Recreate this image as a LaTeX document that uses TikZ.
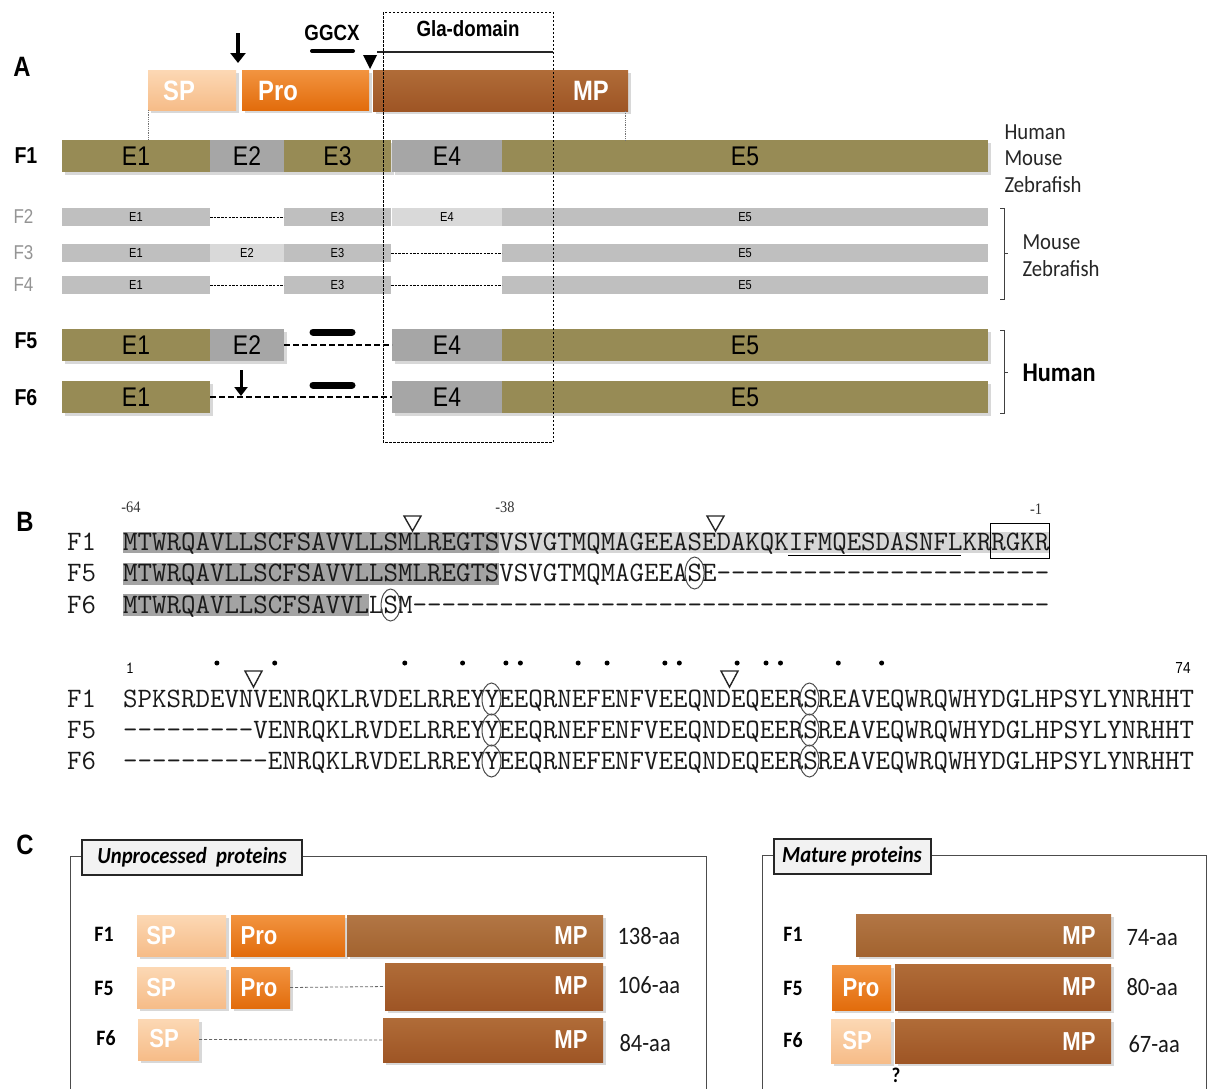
\documentclass[tikz,border=0pt]{standalone}
\usepackage{fontspec}
\setmainfont{Liberation Sans}
\newfontfamily\sansN[FakeStretch=0.85]{Liberation Sans}
\newfontfamily\calN[FakeStretch=0.9]{Carlito}
\newfontfamily\serifN[FakeStretch=0.9]{Liberation Serif}
\usetikzlibrary{shadows,fit,arrows.meta}
\newcommand\myfs[1]{\fontsize{#1}{#1}\selectfont}
\newcommand\dashrep[1]{\foreach\k in {1,...,#1}{-\kern0pt}}
\definecolor{olivec}{HTML}{978B55}
\definecolor{grayc}{HTML}{A6A6A6}
\definecolor{lgray}{HTML}{BFBFBF}
\definecolor{llgray}{HTML}{D9D9D9}
\definecolor{spTop}{HTML}{FCD8B4}
\definecolor{spBot}{HTML}{F6BC88}
\definecolor{proTop}{HTML}{F29440}
\definecolor{proBot}{HTML}{E26C0C}
\definecolor{mpTop}{HTML}{B06C38}
\definecolor{mpBot}{HTML}{9E5525}
\definecolor{mpaTop}{HTML}{B27645}
\definecolor{mpaBot}{HTML}{A2632F}
\definecolor{hdark}{HTML}{A3A3A3}
\definecolor{hlight}{HTML}{D6D6D6}
\definecolor{seqc}{HTML}{1A1A1A}
\begin{document}
\begin{tikzpicture}[x=1pt,y=-1pt,
  sh/.style={drop shadow={opacity=0.3,shadow xshift=2.5pt,shadow yshift=-3pt}},
  bar/.style={inner sep=0pt,outer sep=0pt},
  bigex/.style={bar,sh},
  smex/.style={bar},
  bigtx/.style={font=\sansN\myfs{27},inner sep=0pt},
  smtx/.style={font=\sansN\myfs{13},inner sep=0pt},
  olv/.style={fill=olivec},
  gry/.style={fill=grayc},
  lgr/.style={fill=lgray},
  llg/.style={fill=llgray},
  spsh/.style={bar,sh,top color=spTop,bottom color=spBot},
  prosh/.style={bar,sh,top color=proTop,bottom color=proBot},
  mpsh/.style={bar,sh,top color=mpTop,bottom color=mpBot},
  mpash/.style={bar,sh,top color=mpaTop,bottom color=mpaBot},
  wlbl/.style={text=white,font=\sansN\bfseries\myfs{28}},
  wlblc/.style={text=white,font=\sansN\bfseries\myfs{26}},
  panel/.style={font=\sansN\bfseries\myfs{28}},
  rowA/.style={anchor=west,font=\sansN\bfseries\myfs{23}},
  rowG/.style={anchor=west,text=black!42,font=\sansN\myfs{20}},
  spec/.style={anchor=west,text=black!85,font=\calN\myfs{23}},
  thinD/.style={line width=0.8pt,dash pattern=on 2.5pt off 1.2pt},
  thickD/.style={line width=2.2pt,dash pattern=on 6pt off 3pt},
  bigarrow/.style={line width=3.2pt,-{Triangle[length=10pt,width=15pt]}},
  seq/.style={anchor=base west,inner sep=0pt,text=seqc,font=\ttfamily\myfs{28.1}},
  posnum/.style={font=\serifN\myfs{16},text=black!80},
  otri/.style={draw=black!85,fill=white,line width=1.4pt,line join=miter},
  ell/.style={draw=black!70,line width=1pt},
  gdot/.style={fill=black,circle,inner sep=0pt,minimum size=5pt},
  rowC/.style={font=\calN\bfseries\myfs{22}},
  aa/.style={anchor=west,font=\calN\myfs{25},text=black!90},
  ttl/.style={bar,draw=black!85,line width=1.2pt,fill=black!5},
  ttltxt/.style={font=\calN\bfseries\itshape\myfs{23}},
  frm/.style={draw=black!70,line width=1pt}
]
\useasboundingbox (0,0) rectangle (1212,1088);
\clip (0,0) rectangle (1212,1088);
\fill[white] (0,0) rectangle (1212,1088);

% ================= Panel A =================
\node[panel] (pA) at (22,67) {A};

% protein bar
\node[spsh,fit={(148,70)(236,110)}] (psp) {};
\node[prosh,fit={(242,70)(369,110)}] (ppro) {};
\node[mpsh,fit={(373,70)(628,111)}] (pmp) {};
\node[wlbl] (tsp) at (179,91) {SP};
\node[wlbl] (tpro) at (278,91) {Pro};
\node[wlbl] (tmp) at (591,91) {MP};

\coordinate (a1s) at (238,33);
\coordinate (a1e) at (238,63);
\draw[bigarrow] (a1s) -- (a1e);
\fill (363,55) -- (377,55) -- (370,69) -- cycle;

\node[font=\sansN\bfseries\myfs{22}] (ggcx) at (332,33) {GGCX};
\node[font=\sansN\bfseries\myfs{22}] (gla) at (468,29) {Gla-domain};
\draw[line width=4pt,line cap=round] (312,51) -- (353,51);
\draw[line width=2.6pt,black!85] (377,52) -- (553,52);

% F1
\node[rowA] (lf1) at (11,156) {F1};
\node[bigex,olv,fit={(62,140)(210,172)}] (f1e1) {};
\node[bigex,gry,fit={(210,140)(284,172)}] (f1e2) {};
\node[bigex,olv,fit={(284,140)(391,172)}] (f1e3) {};
\node[bigex,gry,fit={(392,140)(502,172)}] (f1e4) {};
\node[bigex,olv,fit={(502,140)(988,172)}] (f1e5) {};
\node[bigtx] (t1e1) at (f1e1.center) {E1};
\node[bigtx] (t1e2) at (f1e2.center) {E2};
\node[bigtx] (t1e3) at (f1e3.center) {E3};
\node[bigtx] (t1e4) at (f1e4.center) {E4};
\node[bigtx] (t1e5) at (f1e5.center) {E5};
\draw[black!55,densely dotted,line width=0.8pt] (psp.south west) -- (f1e1.north -| psp.south west);
\draw[black!55,densely dotted,line width=0.8pt] (625,111) -- (625,140);
\node[spec] (hum1) at (1001,132) {Human};
\node[spec] (mou1) at (1001,158) {Mouse};
\node[spec] (zeb1) at (1001,185) {Zebrafish};

% F2
\node[rowG] (lf2) at (10,217) {F2};
\node[smex,lgr,fit={(62,208)(210,226)}] (f2e1) {};
\node[smex,lgr,fit={(284,208)(391,226)}] (f2e3) {};
\node[smex,llg,fit={(392,208)(502,226)}] (f2e4) {};
\node[smex,lgr,fit={(502,208)(988,226)}] (f2e5) {};
\node[smtx] at (f2e1.center) {E1};
\node[smtx] at (f2e3.center) {E3};
\node[smtx] at (f2e4.center) {E4};
\node[smtx] at (f2e5.center) {E5};
\draw[thinD] (f2e1.east) -- (f2e3.west);
% F3
\node[rowG] (lf3) at (10,253) {F3};
\node[smex,lgr,fit={(62,244)(210,262)}] (f3e1) {};
\node[smex,llg,fit={(210,244)(284,262)}] (f3e2) {};
\node[smex,lgr,fit={(284,244)(391,262)}] (f3e3) {};
\node[smex,lgr,fit={(502,244)(988,262)}] (f3e5) {};
\node[smtx] at (f3e1.center) {E1};
\node[smtx] at (f3e2.center) {E2};
\node[smtx] at (f3e3.center) {E3};
\node[smtx] at (f3e5.center) {E5};
\draw[thinD] (f3e3.east) -- (f3e5.west);
% F4
\node[rowG] (lf4) at (10,285) {F4};
\node[smex,lgr,fit={(62,276)(210,294)}] (f4e1) {};
\node[smex,lgr,fit={(284,276)(391,294)}] (f4e3) {};
\node[smex,lgr,fit={(502,276)(988,294)}] (f4e5) {};
\node[smtx] at (f4e1.center) {E1};
\node[smtx] at (f4e3.center) {E3};
\node[smtx] at (f4e5.center) {E5};
\draw[thinD] (f4e1.east) -- (f4e3.west);
\draw[thinD] (f4e3.east) -- (f4e5.west);
% bracket mouse/zebrafish
\draw[black!75,line width=1pt] (1000,208) -- (1004,208) -- (1004,299) -- (1000,299);
\draw[black!75,line width=1pt] (1004,253) -- (1008,253);
\node[spec] (mou2) at (1019,242) {Mouse};
\node[spec] (zeb2) at (1019,269) {Zebrafish};

% F5
\node[rowA] (lf5) at (11,341) {F5};
\node[bigex,olv,fit={(62,329)(210,361)}] (f5e1) {};
\node[bigex,gry,fit={(210,329)(284,361)}] (f5e2) {};
\node[bigex,gry,fit={(392,329)(502,361)}] (f5e4) {};
\node[bigex,olv,fit={(502,329)(988,361)}] (f5e5) {};
\node[bigtx] at (f5e1.center) {E1};
\node[bigtx] at (f5e2.center) {E2};
\node[bigtx] at (f5e4.center) {E4};
\node[bigtx] at (f5e5.center) {E5};
\draw[thickD] (f5e2.east) -- (f5e4.west);
\draw[line width=7pt,line cap=round] (313,332) -- (352,332);
% F6
\node[rowA] (lf6) at (11,398) {F6};
\node[bigex,olv,fit={(62,381)(210,413)}] (f6e1) {};
\node[bigex,gry,fit={(392,381)(502,413)}] (f6e4) {};
\node[bigex,olv,fit={(502,381)(988,413)}] (f6e5) {};
\node[bigtx] at (f6e1.center) {E1};
\node[bigtx] at (f6e4.center) {E4};
\node[bigtx] at (f6e5.center) {E5};
\draw[thickD] (f6e1.east) -- (f6e4.west);
\draw[line width=7pt,line cap=round] (313,385) -- (352,385);
\coordinate (a2s) at (241,370);
\coordinate (a2e) at (241,396);
\draw[line width=3pt,-{Triangle[length=9pt,width=13pt]}] (a2s) -- (a2e);
% bracket human
\draw[black!75,line width=1pt] (1000,330) -- (1004,330) -- (1004,413) -- (1000,413);
\draw[black!75,line width=1pt] (1004,372) -- (1008,372);
\node[anchor=west,font=\calN\bfseries\myfs{27}] (hum2) at (1019,373) {Human};

% Gla box
\draw[line width=0.9pt,dash pattern=on 2.5pt off 1.5pt] (383,12) rectangle (553,442);

% ================= Panel B =================
\node[panel] (pB) at (25,522) {B};
\node[posnum] (p64) at (131,507) {-64};
\node[posnum] (p38) at (505,507) {-38};
\node[posnum] (p1m) at (1036,509) {-1};

\fill[hdark] (123,532) rectangle (499,553);
\fill[hlight] (499,532) rectangle (1049,553);
\fill[hdark] (123,563) rectangle (499,585);
\fill[hdark] (123,594) rectangle (369,616);

\node[seq] (b1l1) at (67,550) {F1};
\node[seq] (b1l5) at (67,581) {F5};
\node[seq] (b1l6) at (67,613) {F6};
\node[seq] (b1s1) at (123,550) {MTWRQAVLLSCFSAVVLLSMLREGTSVSVGTMQMAGEEASEDAKQKIFMQESDASNFLKRRGKR};
\node[seq] (b1s5) at (123,581) {MTWRQAVLLSCFSAVVLLSMLREGTSVSVGTMQMAGEEASE\dashrep{23}};
\node[seq] (b1s6) at (123,613) {MTWRQAVLLSCFSAVVLLSM\dashrep{44}};

\draw[line width=1pt] (788,555) -- (961,555);
\draw[line width=1pt] (990,523) rectangle (1049,558);
\draw[otri] (404,516) -- (421,516) -- (412.5,531) -- cycle;
\draw[otri] (707,516) -- (724,516) -- (715.5,531) -- cycle;
\draw[ell] (694.6,573) ellipse [x radius=9.5, y radius=16];
\draw[ell] (390.6,605) ellipse [x radius=9.5, y radius=16];

% block 2
\node[font=\ttfamily\myfs{17}] (q1) at (130,668) {1};
\node[font=\sansN\myfs{16}] (q74) at (1183,668) {74};
\foreach \c in {7,11,20,24,27,28,32,34,38,39,43,45,46,50,53}
  \node[gdot] (dot\c) at ({123+(\c-0.5)*14.45},663) {};
\draw[otri] (245,671) -- (262,671) -- (253.5,687) -- cycle;
\draw[otri] (721,671) -- (738,671) -- (729.5,687) -- cycle;

\node[seq] (b2l1) at (67,707) {F1};
\node[seq] (b2l5) at (67,738) {F5};
\node[seq] (b2l6) at (67,769) {F6};
\node[seq] (b2s1) at (123,707) {SPKSRDEVNVENRQKLRVDELRREYYEEQRNEFENFVEEQNDEQEERSREAVEQWRQWHYDGLHPSYLYNRHHT};
\node[seq] (b2s5) at (123,738) {\dashrep{9}VENRQKLRVDELRREYYEEQRNEFENFVEEQNDEQEERSREAVEQWRQWHYDGLHPSYLYNRHHT};
\node[seq] (b2s6) at (123,769) {\dashrep{10}ENRQKLRVDELRREYYEEQRNEFENFVEEQNDEQEERSREAVEQWRQWHYDGLHPSYLYNRHHT};
\foreach \yy in {699,730,761} {
  \draw[ell] (491.5,\yy) ellipse [x radius=9.5, y radius=16];
  \draw[ell] (809.4,\yy) ellipse [x radius=9.5, y radius=16];
}

% ================= Panel C =================
\node[panel] (pC) at (25,845) {C};
\draw[frm] (70,1100) -- (70,856) -- (706,856) -- (706,1100);
\draw[frm] (762,1100) -- (762,855) -- (1206,855) -- (1206,1100);
\node[ttl,fit={(82,840)(302,875)}] (tl) {};
\node[ttltxt] (tlt) at (192,857) {Unprocessed\ \ proteins};
\node[ttl,fit={(774,839)(931,874)}] (tr) {};
\node[ttltxt] (trt) at (852,856) {Mature proteins};

% left rows
\node[rowC] (cl1) at (104,934) {F1};
\node[rowC] (cl5) at (104,988) {F5};
\node[rowC] (cl6) at (106,1038) {F6};
\node[spsh,fit={(137,915)(226,956)}] (c1sp) {};
\node[prosh,fit={(231,915)(345,956)}] (c1pro) {};
\node[mpash,fit={(347,915)(603,956)}] (c1mp) {};
\node[wlblc] at (161,936) {SP};
\node[wlblc] at (259,936) {Pro};
\node[wlblc] at (571,936) {MP};
\node[aa] (aa1) at (614,936) {138-aa};

\node[spsh,fit={(137,967)(226,1008)}] (c5sp) {};
\node[prosh,fit={(231,967)(290,1008)}] (c5pro) {};
\node[mpsh,fit={(385,963)(603,1010)}] (c5mp) {};
\node[wlblc] at (161,988) {SP};
\node[wlblc] at (259,988) {Pro};
\node[wlblc] at (571,986) {MP};
\draw[black!60,line width=0.8pt,densely dashed] (c5pro.east) -- (c5mp.west);
\node[aa] (aa5) at (614,985) {106-aa};

\node[spsh,fit={(138,1019)(199,1060)}] (c6sp) {};
\node[mpsh,fit={(383,1018)(603,1062)}] (c6mp) {};
\node[wlblc] at (164,1039) {SP};
\node[wlblc] at (571,1040) {MP};
\draw[black!60,line width=0.8pt,densely dashed] (c6sp.east) -- (c6mp.west);
\node[aa] (aa6) at (616,1043) {84-aa};

% right rows
\node[rowC] (cr1) at (793,934) {F1};
\node[rowC] (cr5) at (793,988) {F5};
\node[rowC] (cr6) at (793,1040) {F6};
\node[mpash,fit={(856,914)(1111,956)}] (m1mp) {};
\node[wlblc] at (1079,936) {MP};
\node[aa] (ab1) at (1123,938) {74-aa};
\node[prosh,fit={(832,965)(891,1010)}] (m5pro) {};
\node[mpsh,fit={(895,964)(1111,1010)}] (m5mp) {};
\node[wlblc] at (861,988) {Pro};
\node[wlblc] at (1079,987) {MP};
\node[aa] (ab5) at (1123,987) {80-aa};
\node[spsh,fit={(831,1019)(891,1063)}] (m6sp) {};
\node[mpsh,fit={(895,1019)(1111,1063)}] (m6mp) {};
\node[wlblc] at (857,1041) {SP};
\node[wlblc] at (1079,1042) {MP};
\node[aa] (ab6) at (1125,1044) {67-aa};
\node[font=\calN\bfseries\myfs{21}] (qm) at (896,1075) {?};
\end{tikzpicture}
\end{document}
